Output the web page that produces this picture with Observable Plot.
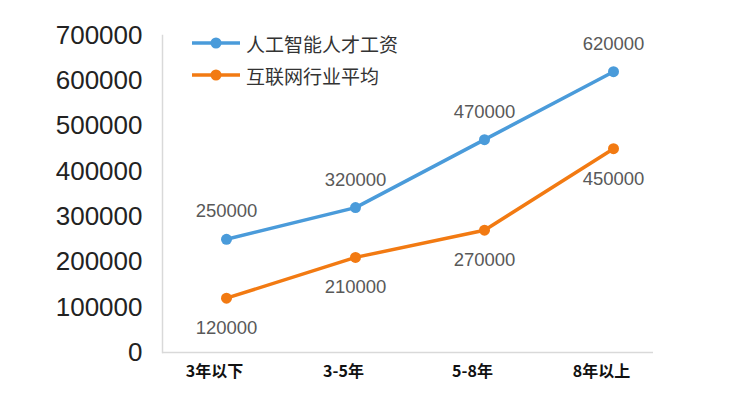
<!DOCTYPE html>
<html>
<head>
<meta charset="utf-8">
<script src="https://cdn.jsdelivr.net/npm/d3@7"></script>
<script src="https://cdn.jsdelivr.net/npm/@observablehq/plot@0.6"></script>
<style>
  html, body { margin: 0; padding: 0; background: #fff; }
  #wrap { position: relative; width: 752px; height: 401px; }
  #legend { position: absolute; left: 192px; top: 27px; font-family: "Noto Sans CJK SC", "Liberation Sans", sans-serif; font-size: 19px; color: #333; }
  .row { display: flex; align-items: center; height: 32px; }
  .row svg { margin-right: 6px; }
</style>
</head>
<body>
<div id="wrap"><div id="legend"></div></div>
<script>
const categories = ["3年以下", "3-5年", "5-8年", "8年以上"];
const seriesNames = ["人工智能人才工资", "互联网行业平均"];
const aiSalary = [250000, 320000, 470000, 620000];
const internetAvg = [120000, 210000, 270000, 450000];
const yTicks = [0, 100000, 200000, 300000, 400000, 500000, 600000, 700000];
const colors = ["#4A9BDA", "#F27A12"];

const data = [];
categories.forEach((c, i) => {
  data.push({cat: c, value: aiSalary[i], series: seriesNames[0]});
  data.push({cat: c, value: internetAvg[i], series: seriesNames[1]});
});
const blue = data.filter(d => d.series === seriesNames[0]);
const orange = data.filter(d => d.series === seriesNames[1]);

const chart = Plot.plot({
  width: 752,
  height: 401,
  marginLeft: 162,
  marginRight: 99,
  marginTop: 35,
  marginBottom: 49,
  style: {fontFamily: "'Liberation Sans', Arial, sans-serif", background: "#fff"},
  x: {type: "point", domain: categories, padding: 0.389, align: 0.62, label: null},
  y: {domain: [0, 700000], label: null},
  color: {domain: seriesNames, range: colors},
  marks: [
    Plot.frame({anchor: "left", stroke: "#d9d9d9", strokeWidth: 1.5}),
    Plot.ruleY([0], {stroke: "#d9d9d9", strokeWidth: 1.5}),
    Plot.axisY({ticks: yTicks, tickSize: 0, tickPadding: 20, fontSize: 26, fill: "#222", label: null, tickFormat: d => String(d)}),
    Plot.axisX({tickSize: 0, tickPadding: 13, fontSize: 16, fontWeight: "bold", fill: "#111", dx: -12, label: null, fontFamily: "'Noto Sans CJK SC', sans-serif"}),
    Plot.line(data, {x: "cat", y: "value", z: "series", stroke: "series", strokeWidth: 3.5}),
    Plot.dot(data, {x: "cat", y: "value", fill: "series", r: 5.5}),
    Plot.text(blue, {x: "cat", y: "value", text: d => String(d.value), dy: -28, fontSize: 18.5, fill: "#595959"}),
    Plot.text(orange, {x: "cat", y: "value", text: d => String(d.value), dy: 30, fontSize: 18.5, fill: "#595959"})
  ]
});
document.getElementById("wrap").prepend(chart);

const legend = document.getElementById("legend");
seriesNames.forEach((name, i) => {
  const row = document.createElement("div");
  row.className = "row";
  row.innerHTML = `<svg width="48" height="14"><line x1="0" y1="7" x2="48" y2="7" stroke="${colors[i]}" stroke-width="3.5"/><circle cx="24" cy="7" r="5.5" fill="${colors[i]}"/></svg><span>${name}</span>`;
  legend.appendChild(row);
});
</script>
</body>
</html>
